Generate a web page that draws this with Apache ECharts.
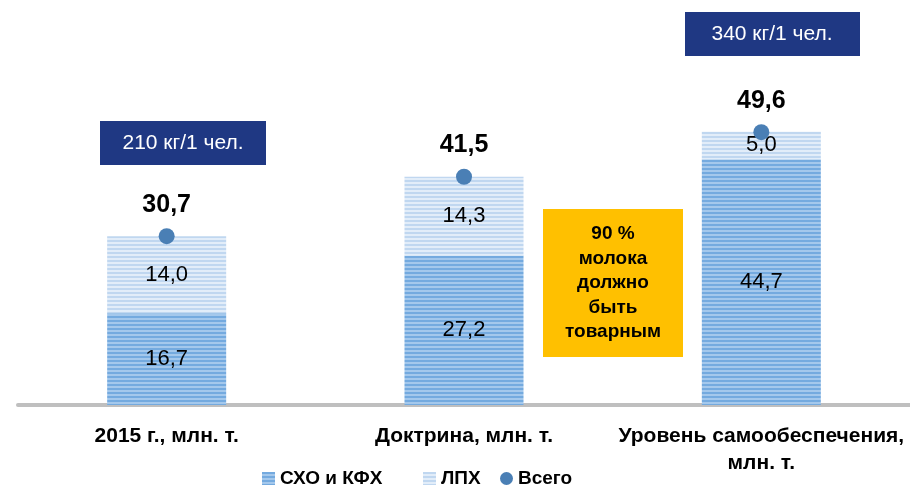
<!DOCTYPE html>
<html>
<head>
<meta charset="utf-8">
<script src="https://cdn.jsdelivr.net/npm/echarts@6/dist/echarts.min.js"></script>
<style>
  html, body { margin: 0; padding: 0; background: #fff; }
  #chart { width: 910px; height: 489px; }
</style>
</head>
<body>
<div id="chart"></div>
<script>
// данные
var categories = ['2015 г., млн. т.', 'Доктрина, млн. т.', 'Уровень самообеспечения,\nмлн. т.'];
var skhoValues = [16.7, 27.2, 44.7];
var lphValues = [14.0, 14.3, 5.0];
var totalValues = [30.7, 41.5, 49.6];
var seriesNames = ['СХО и КФХ', 'ЛПХ', 'Всего'];

var fontFamily = '"Liberation Sans", Arial, sans-serif';

// полосатая заливка столбцов
function stripes(c1, c2) {
    var cv = document.createElement('canvas');
    cv.width = 4;
    cv.height = 4;
    var ctx = cv.getContext('2d');
    ctx.fillStyle = c1;
    ctx.fillRect(0, 0, 4, 4);
    ctx.fillStyle = c2;
    ctx.fillRect(0, 2, 4, 2);
    return { image: cv, repeat: 'repeat' };
}

function comma(p) {
    return p.value.toFixed(1).replace('.', ',');
}

var skhoFill = stripes('#74aadf', '#a4c8ec');
var lphFill = stripes('#c0d7f0', '#e2edf9');
var dotColor = '#4a7fb5';

var legendText = { fontSize: 19, color: '#000', fontFamily: fontFamily, fontWeight: 'bold' };

var chart = echarts.init(document.getElementById('chart'));
chart.setOption({
    animation: false,
    backgroundColor: '#ffffff',
    textStyle: { fontFamily: fontFamily },
    grid: { left: 18, right: 0, top: 75, bottom: 84 },
    legend: [
        { left: 262, top: 469, padding: 0, itemWidth: 13, itemHeight: 13, textStyle: legendText,
          data: [{ name: seriesNames[0], icon: 'rect' }] },
        { left: 423, top: 469, padding: 0, itemWidth: 13, itemHeight: 13, textStyle: legendText,
          data: [{ name: seriesNames[1], icon: 'rect' }] },
        { left: 500, top: 469, padding: 0, itemWidth: 13, itemHeight: 13, textStyle: legendText,
          data: [{ name: seriesNames[2], icon: 'circle' }] }
    ],
    xAxis: {
        type: 'category',
        data: categories,
        axisLine: { show: true, lineStyle: { color: '#bfbfbf', width: 4 } },
        axisTick: { show: false },
        axisLabel: {
            color: '#000',
            fontSize: 21,
            fontWeight: 'bold',
            lineHeight: 27,
            margin: 18,
            interval: 0
        }
    },
    yAxis: {
        type: 'value',
        min: 0,
        max: 60,
        show: false,
        splitLine: { show: false }
    },
    series: [
        {
            name: seriesNames[0],
            type: 'bar',
            stack: 'total',
            barWidth: 119,
            data: skhoValues,
            itemStyle: { color: skhoFill },
            label: { show: true, position: 'inside', fontSize: 22, color: '#000', formatter: comma }
        },
        {
            name: seriesNames[1],
            type: 'bar',
            stack: 'total',
            barWidth: 119,
            data: lphValues,
            itemStyle: { color: lphFill },
            label: { show: true, position: 'inside', fontSize: 22, color: '#000', formatter: comma }
        },
        {
            name: seriesNames[2],
            type: 'scatter',
            symbol: 'circle',
            symbolSize: 16,
            data: totalValues,
            z: 5,
            itemStyle: { color: dotColor, opacity: 1 },
            label: {
                show: true,
                position: 'top',
                distance: 11,
                fontSize: 25,
                fontWeight: 'bold',
                color: '#000',
                formatter: comma
            }
        }
    ],
    graphic: [
        {
            type: 'group', left: 100, top: 121,
            children: [
                { type: 'rect', shape: { width: 166, height: 44 }, style: { fill: '#1f3883' } },
                { type: 'text', x: 83, y: 22, style: { text: '210 кг/1 чел.', fill: '#fff', fontSize: 21, fontFamily: fontFamily, align: 'center', verticalAlign: 'middle' } }
            ]
        },
        {
            type: 'group', left: 685, top: 12,
            children: [
                { type: 'rect', shape: { width: 175, height: 44 }, style: { fill: '#1f3883' } },
                { type: 'text', x: 87, y: 22, style: { text: '340 кг/1 чел.', fill: '#fff', fontSize: 21, fontFamily: fontFamily, align: 'center', verticalAlign: 'middle' } }
            ]
        },
        {
            type: 'group', left: 543, top: 209,
            children: [
                { type: 'rect', shape: { width: 140, height: 148 }, style: { fill: '#ffc000' } },
                { type: 'text', x: 70, y: 74, style: { text: '90 %\nмолока\nдолжно\nбыть\nтоварным', fill: '#000', fontSize: 19, lineHeight: 24.5, fontWeight: 'bold', fontFamily: fontFamily, align: 'center', verticalAlign: 'middle' } }
            ]
        }
    ]
});
</script>
</body>
</html>
